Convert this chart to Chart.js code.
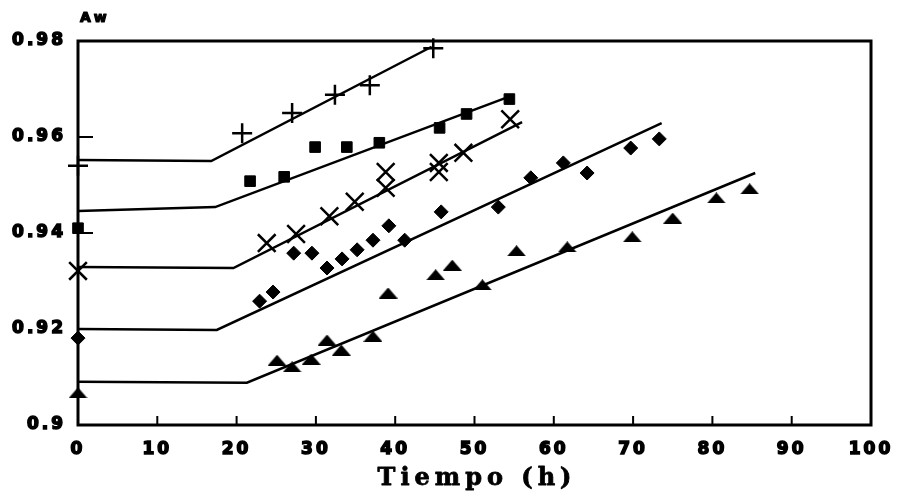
<!DOCTYPE html>
<html>
<head>
<meta charset="utf-8">
<script src="https://cdn.jsdelivr.net/npm/chart.js@4/dist/chart.umd.min.js"></script>
<style>
  html, body { margin: 0; padding: 0; background: #fff; }
  #wrap { width: 902px; height: 493px; }
</style>
</head>
<body>
<div id="wrap"><canvas id="awChart"></canvas></div>
<script>
// Axis labels and ticks
const xTitle = 'Tiempo (h)';
const yTitle = 'Aw';
const xTicks = { min: 0, max: 100, step: 10 };
const yTicks = { min: 0.9, max: 0.98, step: 0.02 };

// Series "+" (measured points and fitted line)
const plusT = [0, 20.7, 27.0, 32.4, 36.8, 44.8];
const plusAw = [0.954, 0.9608, 0.965, 0.9688, 0.9708, 0.9785];
const plusFitT = [0, 16.8, 44.6];
const plusFitAw = [0.9552, 0.9550, 0.9788];

// Series squares
const squareT = [0, 21.7, 26.0, 29.9, 33.9, 38.0, 45.6, 49.0, 54.4];
const squareAw = [0.941, 0.9508, 0.9517, 0.9579, 0.9579, 0.9588, 0.9619, 0.9648, 0.9679];
const squareFitT = [0, 17.3, 54.2];
const squareFitAw = [0.9446, 0.9454, 0.9683];

// Series "x"
const crossT = [0, 23.8, 27.5, 31.7, 34.9, 38.8, 38.8, 45.5, 45.5, 48.6, 54.5];
const crossAw = [0.9321, 0.9379, 0.9398, 0.9435, 0.9465, 0.9527, 0.9494, 0.9546, 0.9527, 0.9567, 0.9637];
const crossFitT = [0, 19.6, 56.0];
const crossFitAw = [0.9329, 0.9327, 0.9631];

// Series diamonds
const diamondT = [0, 22.9, 24.6, 27.2, 29.5, 31.4, 33.3, 35.2, 37.2, 39.2, 41.2, 45.8, 53.0, 57.1, 61.2, 64.2, 69.7, 73.3];
const diamondAw = [0.9181, 0.9258, 0.9277, 0.9358, 0.9358, 0.9327, 0.9346, 0.9365, 0.9385, 0.9415, 0.9385, 0.9444, 0.9454, 0.9515, 0.9546, 0.9525, 0.9577, 0.9596];
const diamondFitT = [0, 17.5, 73.6];
const diamondFitAw = [0.92, 0.9198, 0.9629];

// Series triangles
const triangleT = [0, 25.1, 27.0, 29.4, 31.4, 33.2, 37.2, 39.1, 45.1, 47.2, 51.0, 55.3, 61.7, 69.9, 75.0, 80.5, 84.7];
const triangleAw = [0.9067, 0.9135, 0.9121, 0.9137, 0.9177, 0.9156, 0.9185, 0.9275, 0.9313, 0.9333, 0.9292, 0.9363, 0.9371, 0.9392, 0.9431, 0.9473, 0.9492];
const triangleFitT = [0, 21.3, 85.4];
const triangleFitAw = [0.909, 0.9088, 0.9525];

const INK = '#000';
const TICK_FONT = '"DejaVu Sans", "Liberation Sans", sans-serif';
const TITLE_FONT = '"DejaVu Serif", "Liberation Serif", serif';

// zip two arrays into {x, y} points
function toPoints(xs, ys) {
    return xs.map((x, i) => ({ x: x, y: ys[i] }));
}

// flat triangle marker, the built-in one is too tall
function makeTriangle(w, h) {
    const c = document.createElement('canvas');
    c.width = w;
    c.height = h;
    const g = c.getContext('2d');
    g.fillStyle = INK;
    g.beginPath();
    g.moveTo(w / 2, 0);
    g.lineTo(w, h);
    g.lineTo(0, h);
    g.closePath();
    g.fill();
    return c;
}

function markers(label, xs, ys, style, radius, borderWidth) {
    return {
        label: label,
        data: toPoints(xs, ys),
        showLine: false,
        pointStyle: style,
        pointRadius: radius,
        pointHoverRadius: radius,
        pointBackgroundColor: INK,
        pointBorderColor: INK,
        pointBorderWidth: borderWidth,
        clip: false
    };
}

function fitLine(label, xs, ys) {
    return {
        label: label,
        data: toPoints(xs, ys),
        showLine: true,
        borderColor: INK,
        borderWidth: 2.5,
        pointRadius: 0,
        tension: 0,
        clip: false
    };
}

// draw text with a thin stroke so it looks as heavy as the printed original
function heavyText(ctx, text, x, y, stroke) {
    ctx.lineWidth = stroke;
    ctx.strokeStyle = INK;
    ctx.lineJoin = 'round';
    ctx.strokeText(text, x, y);
    ctx.fillText(text, x, y);
}

// frame, inner tick marks and the axis titles
const framePlugin = {
    id: 'framePlugin',
    beforeDraw(chart) {
        chart.ctx.letterSpacing = '3px';
    },
    beforeDatasetsDraw(chart) {
        const { ctx, chartArea: a, scales } = chart;
        ctx.save();
        ctx.strokeStyle = INK;
        ctx.lineWidth = 3;
        ctx.strokeRect(a.left, a.top, a.right - a.left, a.bottom - a.top);
        ctx.lineWidth = 2;
        ctx.beginPath();
        scales.x.ticks.forEach(t => {
            if (t.value <= scales.x.min || t.value >= scales.x.max) return;
            const px = scales.x.getPixelForValue(t.value);
            ctx.moveTo(px, a.bottom);
            ctx.lineTo(px, a.bottom - 9);
        });
        scales.y.ticks.forEach(t => {
            if (t.value <= scales.y.min + 1e-9 || t.value >= scales.y.max - 1e-9) return;
            const py = scales.y.getPixelForValue(t.value);
            ctx.moveTo(a.left, py);
            ctx.lineTo(a.left + 15, py);
        });
        ctx.stroke();
        ctx.restore();
    },
    afterDraw(chart) {
        const { ctx, chartArea: a } = chart;
        ctx.save();
        ctx.fillStyle = INK;
        ctx.textBaseline = 'middle';
        ctx.font = 'bold 24px ' + TITLE_FONT;
        ctx.letterSpacing = '5px';
        ctx.textAlign = 'center';
        heavyText(ctx, xTitle, (a.left + a.right) / 2 + 2.5, chart.height - 14, 0.8);
        ctx.font = 'bold 14px ' + TICK_FONT;
        ctx.letterSpacing = '3px';
        ctx.textAlign = 'left';
        heavyText(ctx, yTitle, a.left + 2, a.top - 23, 1.2);
        ctx.restore();
    }
};

document.addEventListener('DOMContentLoaded', function() {
    const canvas = document.getElementById('awChart');
    new Chart(canvas.getContext('2d'), {
        type: 'scatter',
        data: {
            datasets: [
                fitLine('+ ajuste', plusFitT, plusFitAw),
                fitLine('cuadrado ajuste', squareFitT, squareFitAw),
                fitLine('x ajuste', crossFitT, crossFitAw),
                fitLine('rombo ajuste', diamondFitT, diamondFitAw),
                fitLine('triangulo ajuste', triangleFitT, triangleFitAw),
                markers('+', plusT, plusAw, 'cross', 10, 2.5),
                markers('cuadrado', squareT, squareAw, 'rect', 7.5, 1),
                markers('x', crossT, crossAw, 'crossRot', 12.5, 2.5),
                markers('rombo', diamondT, diamondAw, 'rectRot', 7, 1),
                markers('triangulo', triangleT, triangleAw, makeTriangle(19, 11), 9, 0)
            ]
        },
        options: {
            responsive: true,
            maintainAspectRatio: false,
            animation: false,
            layout: {
                autoPadding: false,
                padding: { top: 41, right: 31, bottom: 0, left: 0 }
            },
            plugins: {
                legend: { display: false },
                tooltip: { enabled: false }
            },
            scales: {
                x: {
                    type: 'linear',
                    min: xTicks.min,
                    max: xTicks.max,
                    grid: { display: false },
                    border: { display: false },
                    ticks: {
                        stepSize: xTicks.step,
                        color: INK,
                        padding: 6,
                        maxRotation: 0,
                        textStrokeColor: INK,
                        textStrokeWidth: 1.5,
                        font: { family: TICK_FONT, size: 17, weight: 'bold' }
                    },
                    afterFit: scale => { scale.height = 68; }
                },
                y: {
                    type: 'linear',
                    min: yTicks.min,
                    max: yTicks.max,
                    grid: { display: false },
                    border: { display: false },
                    ticks: {
                        stepSize: yTicks.step,
                        color: INK,
                        padding: 4,
                        textStrokeColor: INK,
                        textStrokeWidth: 1.5,
                        font: { family: TICK_FONT, size: 17, weight: 'bold' },
                        callback: v => String(Number(v.toFixed(2)))
                    },
                    afterFit: scale => { scale.width = 78; }
                }
            }
        },
        plugins: [framePlugin]
    });
});
</script>
</body>
</html>
